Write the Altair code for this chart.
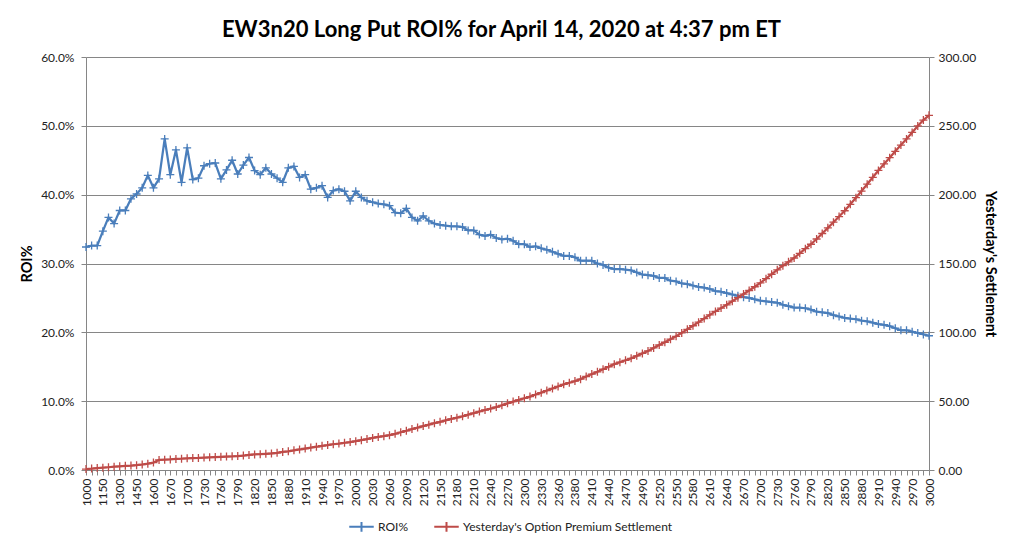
import json
import altair as alt
import pandas as pd

# ---- data -------------------------------------------------------------
strikes = ([1000, 1050, 1100, 1150, 1200, 1250, 1300, 1350, 1400, 1450, 1500, 1550, 1600,
            1650, 1660]
           + list(range(1670, 2361, 10)) + [2370, 2375]
           + list(range(2380, 2471, 10)) + [2475, 2480]
           + list(range(2490, 3001, 10)))

roi_pct = [
    32.4, 32.6, 32.6, 34.7, 36.7, 35.8, 37.7, 37.7, 39.4, 40.1,
    41.0, 42.8, 41.0, 42.3, 48.1, 42.9, 46.5, 41.8, 46.8, 42.2,
    42.4, 44.2, 44.5, 44.6, 42.3, 43.6, 45.0, 43.0, 44.3, 45.4,
    43.5, 42.9, 43.9, 43.0, 42.4, 41.8, 43.9, 44.1, 42.5, 42.9,
    40.8, 41.0, 41.3, 39.6, 40.6, 40.8, 40.5, 39.1, 40.5, 39.6,
    39.1, 38.9, 38.7, 38.6, 38.4, 37.4, 37.3, 38.0, 36.7, 36.2,
    36.9, 36.2, 35.8, 35.6, 35.5, 35.4, 35.4, 35.3, 34.8, 34.8,
    34.2, 34.0, 34.2, 33.7, 33.5, 33.6, 33.3, 32.8, 32.8, 32.4,
    32.5, 32.2, 32.0, 31.7, 31.4, 31.1, 31.1, 30.9, 30.4, 30.4,
    30.4, 30.0, 29.8, 29.4, 29.2, 29.2, 29.1, 29.0, 28.7, 28.4,
    28.3, 28.2, 27.9, 27.9, 27.5, 27.4, 27.1, 27.0, 26.8, 26.6,
    26.5, 26.3, 26.0, 25.9, 25.7, 25.5, 25.3, 25.1, 25.0, 24.8,
    24.6, 24.5, 24.4, 24.3, 24.0, 23.8, 23.6, 23.6, 23.5, 23.3,
    23.0, 22.9, 22.8, 22.5, 22.3, 22.1, 22.0, 21.9, 21.7, 21.6,
    21.4, 21.2, 21.1, 20.9, 20.6, 20.3, 20.3, 20.1, 19.9, 19.7,
    19.5,
]

settlement = [
    0.7, 1.0, 1.4, 1.7, 2.0, 2.4, 2.7, 3.0, 3.2, 3.5,
    4.0, 4.6, 5.4, 7.3, 7.5, 7.7, 8.0, 8.2, 8.5, 8.7,
    8.8, 9.0, 9.2, 9.4, 9.6, 9.8, 9.9, 10.1, 10.5, 10.9,
    11.3, 11.5, 11.8, 12.0, 12.5, 13.1, 13.6, 14.3, 14.9, 15.6,
    16.3, 16.9, 17.6, 18.1, 18.7, 19.2, 19.8, 20.3, 20.9, 21.7,
    22.5, 23.3, 24.0, 24.6, 25.3, 26.3, 27.4, 28.5, 29.7, 30.8,
    31.9, 32.9, 34.0, 35.0, 36.1, 37.1, 38.0, 39.0, 40.2, 41.3,
    42.5, 43.6, 44.6, 45.7, 47.0, 48.4, 49.7, 50.9, 52.1, 53.3,
    54.8, 56.2, 57.7, 59.2, 60.7, 62.2, 63.4, 64.6, 66.0, 67.9,
    69.7, 71.3, 73.2, 75.0, 76.9, 78.3, 79.7, 81.1, 82.9, 84.7,
    86.5, 88.7, 90.8, 92.8, 95.0, 97.1, 99.6, 102.2, 104.8, 107.4,
    110.0, 112.7, 115.2, 117.6, 120.0, 122.6, 125.2, 127.8, 130.4, 133.1,
    135.9, 139.0, 142.2, 145.4, 148.4, 151.2, 154.0, 157.4, 160.8, 164.0,
    167.8, 171.8, 175.9, 180.0, 184.1, 188.3, 193.0, 197.8, 202.6, 207.6,
    212.6, 217.6, 222.3, 226.9, 231.5, 236.0, 240.5, 245.2, 249.9, 254.2,
    257.6,
]

series_names = ["ROI%", "Yesterday's Option Premium Settlement"]
series_colors = ["#4A7EBB", "#BE4B48"]
left_ticks = [0, 10, 20, 30, 40, 50, 60]
right_ticks = [0, 50, 100, 150, 200, 250, 300]

strike_labels = [str(s) for s in strikes]
shown_labels = strike_labels[::3]

df = pd.DataFrame({
    "strike": strike_labels * 2,
    "series": [series_names[0]] * len(strikes) + [series_names[1]] * len(strikes),
    "value": roi_pct + settlement,
})

# ---- chart --------------------------------------------------------------
FONT = "Lato"
GRID = "#868686"
PLUS = "M-1,0L1,0M0,-1L0,1"

x_enc = alt.X(
    "strike:O",
    sort=strike_labels,
    scale=alt.Scale(type="point", padding=0),
    axis=alt.Axis(
        title=None,
        labelAngle=270,
        labelExpr="indexof(" + json.dumps(shown_labels) + ", datum.label) >= 0 ? datum.label : ''",
        labelOverlap=False,
        labelFontSize=12,
        labelColor="#222222",
        labelPadding=3,
        tickSize=5,
        tickColor=GRID,
        domainColor=GRID,
        grid=False,
    ),
)

color_enc = alt.Color(
    "series:N",
    scale=alt.Scale(domain=series_names, range=series_colors),
    legend=alt.Legend(
        title=None,
        orient="none",
        direction="horizontal",
        legendX=262,
        legendY=456,
        symbolType="M-1,0L1,0M0,-0.4L0,0.4",
        symbolSize=600,
        symbolStrokeWidth=2,
        labelFontSize=12,
        labelColor="#222222",
        labelOffset=3,
        labelLimit=0,
        columnPadding=21,
    ),
)

base = alt.Chart(df)

roi_base = base.transform_filter(alt.datum.series == series_names[0])
y_left = alt.Y(
    "value:Q",
    scale=alt.Scale(domain=[0, 60], nice=False, zero=True),
    axis=alt.Axis(
        orient="left",
        title="ROI%",
        titleFontSize=14.5,
        titleFontWeight="bold",
        titleColor="#000000",
        titlePadding=6,
        values=left_ticks,
        labelExpr="format(datum.value, '.1f') + '%'",
        labelFontSize=12,
        labelColor="#222222",
        labelPadding=7,
        tickSize=5,
        tickColor=GRID,
        domainColor=GRID,
        grid=True,
        gridColor=GRID,
        gridWidth=1,
    ),
)
roi_line = roi_base.mark_line(strokeWidth=2.25, strokeJoin="round").encode(
    x=x_enc, y=y_left, color=color_enc)
roi_pts = roi_base.mark_point(shape=PLUS, filled=False, size=64, strokeWidth=1.3, opacity=1).encode(
    x=x_enc, y=y_left, color=color_enc)

set_base = base.transform_filter(alt.datum.series == series_names[1])
y_right = alt.Y(
    "value:Q",
    scale=alt.Scale(domain=[0, 300], nice=False, zero=True),
    axis=alt.Axis(
        orient="right",
        title="Yesterday's Settlement",
        titleFontSize=14.5,
        titleFontWeight="bold",
        titleColor="#000000",
        titlePadding=7,
        titleAngle=90,
        values=right_ticks,
        format=".2f",
        labelFontSize=12,
        labelColor="#222222",
        labelPadding=4,
        tickSize=5,
        tickColor=GRID,
        domainColor=GRID,
        grid=False,
    ),
)
set_line = set_base.mark_line(strokeWidth=2.25, strokeJoin="round").encode(
    x=x_enc, y=y_right, color=color_enc)
set_pts = set_base.mark_point(shape=PLUS, filled=False, size=64, strokeWidth=1.3, opacity=1).encode(
    x=x_enc, y=y_right, color=color_enc)

left = alt.layer(roi_line, roi_pts)
right = alt.layer(set_line, set_pts)

chart = (
    alt.layer(left, right)
    .resolve_scale(y="independent")
    .properties(
        width=843,
        height=413,
        title=alt.TitleParams(
            "EW3n20 Long Put ROI% for April 14, 2020 at 4:37 pm ET",
            fontSize=22,
            fontWeight="bold",
            font=FONT,
            color="#000000",
            anchor="middle",
            frame="group",
            offset=9,
            dx=-6,
        ),
        autosize=alt.AutoSizeParams(type="none"),
        padding={"left": 78, "top": 49, "right": 84, "bottom": 68},
    )
    .configure(font=FONT)
    .configure_view(stroke=None)
    .configure_axis(labelFont=FONT, titleFont=FONT)
    .configure_legend(labelFont=FONT)
)

chart.save("out.html", embed_options={"renderer": "svg", "actions": False})
